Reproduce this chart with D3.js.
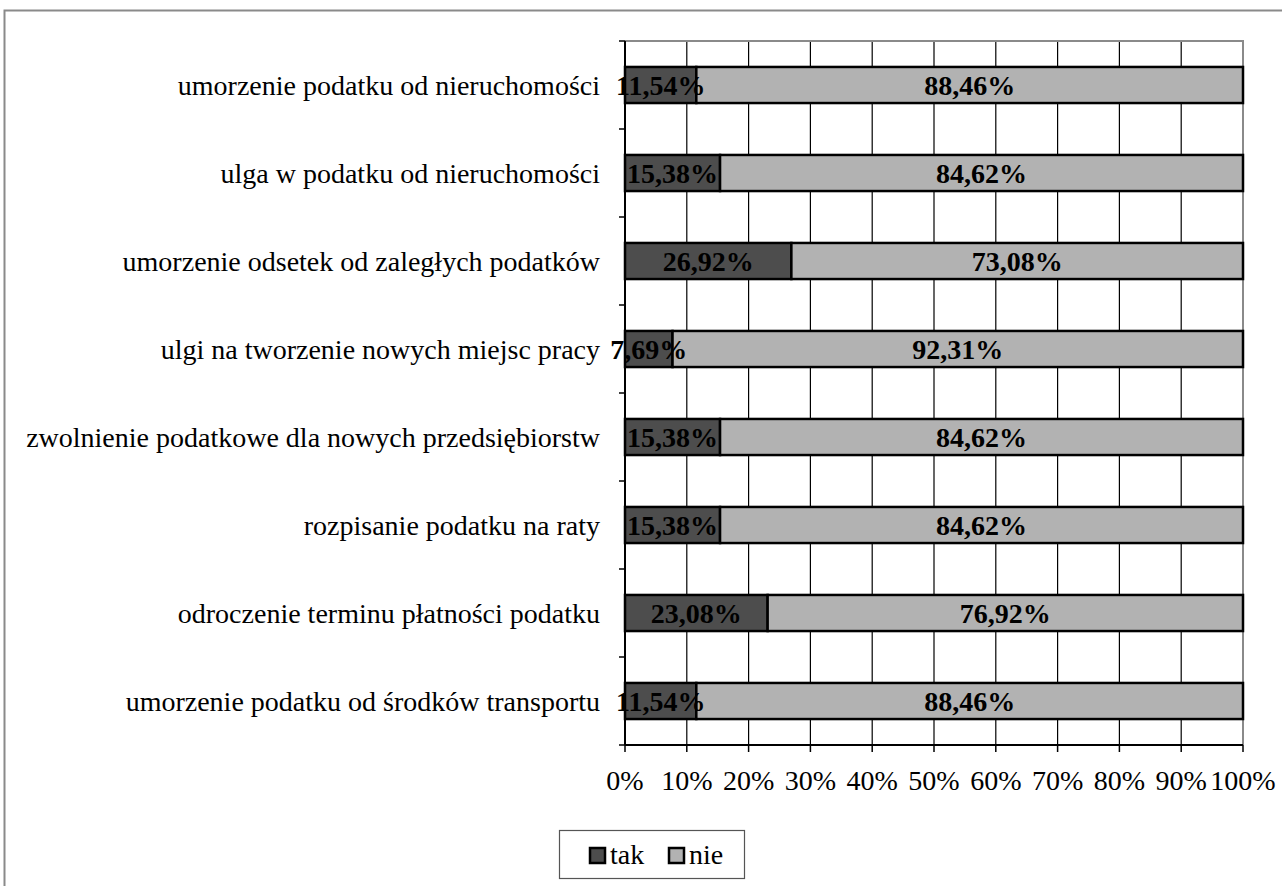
<!DOCTYPE html>
<html><head><meta charset="utf-8">
<script src="https://cdn.jsdelivr.net/npm/d3@7"></script>
<style>body{margin:0;background:#fff}svg{display:block}</style>
</head><body>
<svg id="c" width="1282" height="886"></svg>
<script>
const categories = [
  "umorzenie podatku od nieruchomości",
  "ulga w podatku od nieruchomości",
  "umorzenie odsetek od zaległych podatków",
  "ulgi na tworzenie nowych miejsc pracy",
  "zwolnienie podatkowe dla nowych przedsiębiorstw",
  "rozpisanie podatku na raty",
  "odroczenie terminu płatności podatku",
  "umorzenie podatku od środków transportu"
];
const tak = [11.54, 15.38, 26.92, 7.69, 15.38, 15.38, 23.08, 11.54];
const nie = [88.46, 84.62, 73.08, 92.31, 84.62, 84.62, 76.92, 88.46];
const seriesNames = ["tak", "nie"];
const xTicks = [0,10,20,30,40,50,60,70,80,90,100];

const FONT = '"Liberation Serif", "Times New Roman", serif';
const colors = {tak: "#4d4d4d", nie: "#b2b2b2"};
const svg = d3.select("#c");

// outer frame
svg.append("path").attr("d","M4.5,886 L4.5,10.5 L1290,10.5").attr("fill","none").attr("stroke","#8a8a8a").attr("stroke-width",2);

const L = 625, R = 1243, T = 41, B = 745;
const x = d3.scaleLinear().domain([0,100]).range([L,R]);
const y = d3.scaleBand().domain(categories).range([T,B]).paddingInner(0.59).paddingOuter(0.295);
const yb = d3.scaleBand().domain(categories).range([T,B]);

// gridlines
svg.append("g").selectAll("line").data(xTicks.slice(1,-1)).join("line")
  .attr("x1",d=>x(d)).attr("x2",d=>x(d)).attr("y1",T).attr("y2",B)
  .attr("stroke","#000").attr("stroke-width",1.2);
// plot border top/right gray
svg.append("path").attr("d",`M${L},${T} L${R},${T} L${R},${B}`).attr("fill","none").attr("stroke","#8a8a8a").attr("stroke-width",2);

const rows = categories.map((c,i)=>({c, tak:tak[i], nie:nie[i]}));
const stacked = d3.stack().keys(seriesNames)(rows);

stacked.forEach(s=>{
  svg.append("g").selectAll("rect").data(s).join("rect")
    .attr("x",d=>x(d[0])).attr("width",d=>x(d[1])-x(d[0]))
    .attr("y",d=>y(d.data.c)).attr("height",y.bandwidth())
    .attr("fill",colors[s.key]).attr("stroke","#000").attr("stroke-width",2.5);
});
stacked.forEach(s=>{
  svg.append("g").selectAll("text").data(s).join("text")
    .attr("x",d=>(x(d[0])+x(d[1]))/2).attr("y",d=>y(d.data.c)+y.bandwidth()/2)
    .attr("dy","0.35em").attr("text-anchor","middle")
    .style("font-family",FONT).style("font-size","28px").style("font-weight","bold").attr("fill","#000")
    .text(d=>d.data[s.key].toFixed(2).replace(".",",")+"%");
});

// left axis
const yAxisG = svg.append("g");
yAxisG.append("line").attr("x1",L).attr("x2",L).attr("y1",T).attr("y2",B).attr("stroke","#000").attr("stroke-width",2);
const bounds = d3.range(categories.length+1).map(i=>T + i*yb.step());
yAxisG.selectAll("line.t").data(bounds).join("line").attr("class","t")
  .attr("x1",L-6).attr("x2",L).attr("y1",d=>d).attr("y2",d=>d).attr("stroke","#000").attr("stroke-width",1.5);
yAxisG.selectAll("text").data(categories).join("text")
  .attr("x",600).attr("y",d=>yb(d)+yb.bandwidth()/2).attr("dy","0.35em")
  .attr("text-anchor","end").style("font-family",FONT).style("font-size","28px").attr("fill","#000").text(d=>d);

// bottom axis
const xAxisG = svg.append("g");
xAxisG.append("line").attr("x1",L).attr("x2",R).attr("y1",B).attr("y2",B).attr("stroke","#000").attr("stroke-width",2);
xAxisG.selectAll("line.t").data(xTicks).join("line").attr("class","t")
  .attr("x1",d=>x(d)).attr("x2",d=>x(d)).attr("y1",B).attr("y2",B+7).attr("stroke","#000").attr("stroke-width",1.5);
xAxisG.selectAll("text").data(xTicks).join("text")
  .attr("x",d=>x(d)).attr("y",B+45).attr("text-anchor","middle").style("font-family",FONT).style("font-size","28px").attr("fill","#000")
  .text(d=>d+"%");

// legend
const lg = svg.append("g");
lg.append("rect").attr("x",559.5).attr("y",830.5).attr("width",185).attr("height",48).attr("fill","#fff").attr("stroke","#555").attr("stroke-width",1.2);
const legX = [590, 669];
seriesNames.forEach((k,i)=>{
  lg.append("rect").attr("x",legX[i]).attr("y",848).attr("width",15).attr("height",15).attr("fill",colors[k]).attr("stroke","#000").attr("stroke-width",2.5);
  lg.append("text").attr("x",legX[i]+20).attr("y",864).style("font-family",FONT).style("font-size","28px").attr("fill","#000").text(k);
});
</script>
</body></html>
